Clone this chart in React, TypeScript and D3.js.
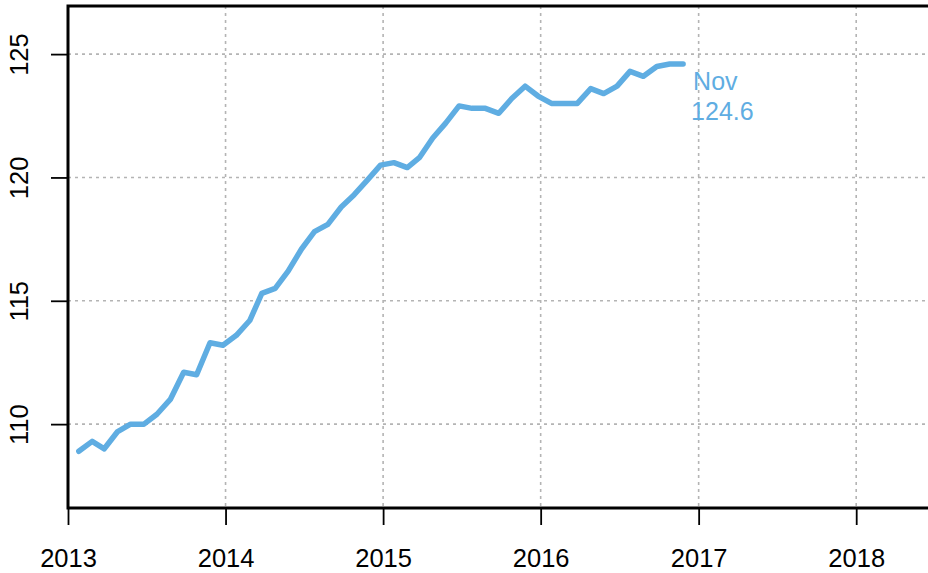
import React, { useEffect, useRef } from 'react';
import * as d3 from 'd3';

const years = [2013, 2014, 2015, 2016];
const values2013 = [108.9, 109.3, 109.0, 109.7, 110.0, 110.0, 110.4, 111.0, 112.1, 112.0, 113.3, 113.2];
const values2014 = [113.6, 114.2, 115.3, 115.5, 116.2, 117.1, 117.8, 118.1, 118.8, 119.3, 119.9, 120.5];
const values2015 = [120.6, 120.4, 120.8, 121.6, 122.2, 122.9, 122.8, 122.8, 122.6, 123.2, 123.7, 123.3];
const values2016 = [123.0, 123.0, 123.0, 123.6, 123.4, 123.7, 124.3, 124.1, 124.5, 124.6, 124.6];
const yTicks = [110, 115, 120, 125];
const xTickYears = [2013, 2014, 2015, 2016, 2017, 2018];
const lastLabel = ['Nov', '124.6'];

interface Point {
  date: Date;
  value: number;
}

const W = 928;
const H = 573;
const BLUE = '#5fade2';
const FONT = '"Liberation Sans", Arial, Helvetica, sans-serif';

export default function App() {
  const svgRef = useRef<SVGSVGElement>(null);

  useEffect(() => {
    if (!svgRef.current) return;
    const svg = d3.select(svgRef.current);
    svg.selectAll('*').remove();

    const byYear = [values2013, values2014, values2015, values2016];
    const data: Point[] = [];
    byYear.forEach((vals, i) => {
      vals.forEach((v, m) => data.push({ date: new Date(years[i], m, 26), value: v }));
    });

    const top = 6;
    const bottom = 508;
    const left = 68;

    const x = d3.scaleTime()
      .domain([new Date(2013, 0, 1), new Date(2018, 0, 1)])
      .range([left, 856.2]);

    const y = d3.scaleLinear()
      .domain([106.6, 126.95])
      .range([bottom, top]);

    // Grid
    const grid = svg.append('g')
      .attr('stroke', '#b4b4b4')
      .attr('stroke-width', 1.6)
      .attr('stroke-dasharray', '3,4');

    grid.selectAll('.hg')
      .data(yTicks)
      .enter()
      .append('line')
      .attr('x1', left)
      .attr('x2', W)
      .attr('y1', d => y(d))
      .attr('y2', d => y(d));

    grid.selectAll('.vg')
      .data(xTickYears.slice(1))
      .enter()
      .append('line')
      .attr('x1', d => x(new Date(d, 0, 1)))
      .attr('x2', d => x(new Date(d, 0, 1)))
      .attr('y1', top)
      .attr('y2', bottom);

    // Line
    const line = d3.line<Point>()
      .x(d => x(d.date))
      .y(d => y(d.value));

    svg.append('path')
      .datum(data)
      .attr('fill', 'none')
      .attr('stroke', BLUE)
      .attr('stroke-width', 5.5)
      .attr('stroke-linejoin', 'round')
      .attr('stroke-linecap', 'round')
      .attr('d', line);

    // Last value label
    const last = data[data.length - 1];
    const lab = svg.append('text')
      .attr('x', x(last.date) + 10)
      .attr('y', 90)
      .attr('fill', BLUE)
      .attr('font-family', FONT)
      .attr('font-size', 25);
    lab.append('tspan').attr('x', x(last.date) + 10).text(lastLabel[0]);
    lab.append('tspan').attr('x', x(last.date) + 8).attr('dy', 30).text(lastLabel[1]);

    // Box (right side runs off the picture)
    svg.append('path')
      .attr('d', `M${W + 10},${top}H${left}V${bottom}H${W + 10}`)
      .attr('fill', 'none')
      .attr('stroke', '#000')
      .attr('stroke-width', 3);

    // Axes
    const xAxis = d3.axisBottom(x)
      .tickValues(xTickYears.map(yr => new Date(yr, 0, 1)))
      .tickFormat(d => d3.timeFormat('%Y')(d as Date))
      .tickSize(17)
      .tickPadding(24);

    const gx = svg.append('g')
      .attr('transform', `translate(0,${bottom})`)
      .call(xAxis);
    gx.select('.domain').remove();
    gx.selectAll('line').attr('stroke', '#000').attr('stroke-width', 1.8);
    gx.selectAll('text')
      .attr('font-family', FONT)
      .attr('font-size', 25.5)
      .attr('fill', '#000');

    const yAxis = d3.axisLeft(y)
      .tickValues(yTicks)
      .tickSize(17)
      .tickPadding(0);

    const gy = svg.append('g')
      .attr('transform', `translate(${left},0)`)
      .call(yAxis);
    gy.select('.domain').remove();
    gy.selectAll('line').attr('stroke', '#000').attr('stroke-width', 1.8);
    gy.selectAll('text')
      .attr('font-family', FONT)
      .attr('font-size', 25.5)
      .attr('fill', '#000')
      .attr('x', null)
      .attr('dy', null)
      .attr('text-anchor', 'middle')
      .attr('transform', 'translate(-40,0) rotate(-90)');
  }, []);

  return (
    <svg
      ref={svgRef}
      width={W}
      height={H}
      style={{ position: 'fixed', top: 0, left: 0, background: '#fff' }}
    />
  );
}
